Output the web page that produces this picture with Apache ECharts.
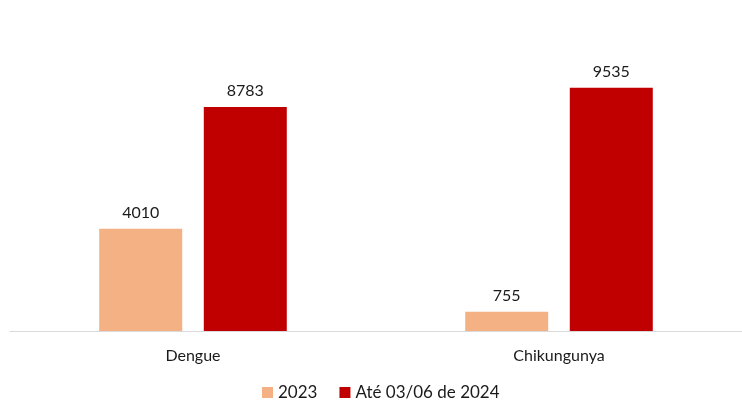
<!DOCTYPE html>
<html>
<head>
<meta charset="utf-8">
<script src="https://cdn.jsdelivr.net/npm/echarts@6/dist/echarts.min.js"></script>
<style>html,body{margin:0;padding:0;background:#fff}#c{width:742px;height:401px}</style>
</head>
<body>
<div id="c"></div>
<script>
const categories = ['Dengue', 'Chikungunya'];
const seriesNames = ['2023', 'Até 03/06 de 2024'];
const values2023 = [4010, 755];
const values2024 = [8783, 9535];

const font = 'Lato, "Open Sans", sans-serif';
const chart = echarts.init(document.getElementById('c'));
chart.setOption({
  animation: false,
  textStyle: { fontFamily: font },
  grid: { left: 10, right: 0, top: 25, bottom: 70 },
  legend: {
    bottom: 0,
    left: 262,
    padding: [0, 0, 0, 0],
    itemWidth: 11,
    itemHeight: 11,
    itemGap: 22,
    icon: 'rect',
    textStyle: { fontSize: 17, color: '#1a1a1a', fontFamily: font },
    data: seriesNames
  },
  xAxis: {
    type: 'category',
    data: categories,
    axisLine: { lineStyle: { color: '#D9D9D9', width: 1 } },
    axisTick: { show: false },
    axisLabel: { fontSize: 16, color: '#1a1a1a', margin: 17, fontFamily: font }
  },
  yAxis: {
    type: 'value',
    min: 0,
    max: 12000,
    show: false,
    splitLine: { show: false }
  },
  series: [
    {
      name: seriesNames[0],
      type: 'bar',
      data: values2023,
      barWidth: 83,
      barGap: '26%',
      itemStyle: { color: '#F4B183' },
      label: { show: true, position: 'top', distance: 8, fontSize: 16, color: '#1a1a1a', fontFamily: font }
    },
    {
      name: seriesNames[1],
      type: 'bar',
      data: values2024,
      barWidth: 83,
      barGap: '26%',
      itemStyle: { color: '#C00000' },
      label: { show: true, position: 'top', distance: 8, fontSize: 16, color: '#1a1a1a', fontFamily: font }
    }
  ]
});
</script>
</body>
</html>
